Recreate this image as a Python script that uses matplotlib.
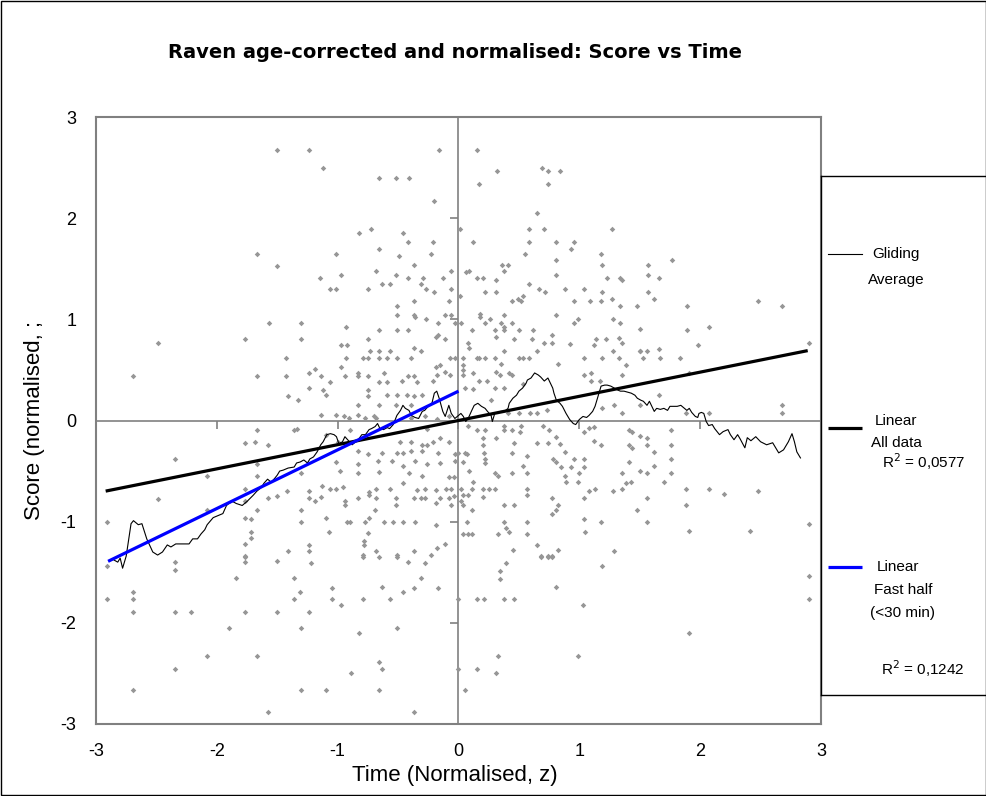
import numpy as np
import matplotlib.pyplot as plt
from matplotlib.patches import Rectangle

plt.rcParams['font.family'] = ['Liberation Sans', 'DejaVu Sans']

# ---- data (normalised time z, normalised score) ----
ticks = [-3, -2, -1, 0, 1, 2, 3]

# scatter, upper half (score > ~0.8)
pts_top = [
    (-1.50, 2.67), (-1.67, 1.65), (-1.50, 1.53), (-1.57, 0.96),
    (-1.24, 2.67), (-1.12, 2.50), (-0.66, 2.40), (-0.52, 2.40), (-0.41, 2.40), (-0.16, 2.67),
    (-0.20, 2.17), (-0.82, 1.85), (-0.72, 1.89), (-0.46, 1.85), (-0.42, 1.76), (-0.21, 1.76),
    (-0.66, 1.70), (-1.01, 1.65), (-0.49, 1.63), (-0.23, 1.65), (-0.37, 1.54), (-0.68, 1.48),
    (-0.06, 1.48), (-0.97, 1.44), (-0.52, 1.44), (-1.15, 1.41), (-0.42, 1.41), (-0.29, 1.41),
    (-0.13, 1.41), (-0.63, 1.35), (-0.57, 1.35), (-0.31, 1.35), (-1.06, 1.30), (-1.01, 1.30),
    (-0.75, 1.30), (-0.27, 1.30), (-0.06, 1.30), (-0.20, 1.27), (-0.37, 1.18), (-0.08, 1.18),
    (-0.51, 1.13), (-0.51, 1.04), (-0.37, 1.04), (-0.36, 1.02), (-0.27, 1.00), (-0.11, 1.04),
    (-0.06, 1.04), (-1.30, 0.96), (-0.93, 0.92), (-0.17, 0.96), (-0.03, 0.96), (-0.66, 0.89),
    (-0.51, 0.89), (-0.42, 0.89), (-0.17, 0.85),
    (0.15, 2.67), (0.32, 2.47), (0.17, 2.34), (0.69, 2.50), (0.74, 2.47), (0.84, 2.47),
    (0.74, 2.34), (0.65, 2.05), (0.01, 1.89), (0.58, 1.89), (0.71, 1.89), (1.27, 1.89),
    (0.12, 1.76), (0.58, 1.76), (0.81, 1.76), (0.96, 1.76), (0.93, 1.70), (0.55, 1.65),
    (1.18, 1.65), (0.81, 1.59), (0.36, 1.54), (0.41, 1.54), (1.19, 1.54), (0.38, 1.48),
    (0.06, 1.47), (0.09, 1.48), (0.81, 1.44), (0.15, 1.41), (0.20, 1.41), (0.31, 1.39),
    (1.23, 1.41), (1.34, 1.41), (1.35, 1.39), (0.58, 1.35), (0.67, 1.30), (0.72, 1.27),
    (0.88, 1.30), (1.04, 1.30), (0.01, 1.23), (0.22, 1.27), (0.31, 1.27), (1.19, 1.27),
    (0.53, 1.23), (0.49, 1.20), (0.44, 1.18), (0.52, 1.18), (0.96, 1.18), (1.09, 1.18),
    (1.18, 1.18), (1.27, 1.20), (1.34, 1.13), (1.48, 1.13), (0.81, 1.04), (0.18, 1.02),
    (0.18, 1.05), (0.38, 1.04), (0.02, 0.96), (0.22, 0.96), (0.26, 1.00), (0.35, 0.96),
    (0.38, 0.92), (0.44, 0.96), (0.96, 0.96), (0.99, 1.00), (1.28, 1.00), (1.34, 0.96),
    (0.11, 0.89), (0.30, 0.89), (0.38, 0.89), (0.50, 0.89), (0.62, 0.89), (0.77, 0.85),
    (1.50, 0.90),
    (1.77, 1.59), (1.57, 1.54), (1.57, 1.44), (1.66, 1.41), (1.57, 1.27), (1.62, 1.20),
    (1.89, 1.13), (2.48, 1.18), (2.68, 1.13), (1.89, 0.89), (2.07, 0.92),
]

# scatter, left of zero, middle band
pts_mid_left = [
    (-2.49, 0.77), (-1.77, 0.81), (-2.69, 0.44), (-1.67, 0.44), (-1.67, -0.09), (-1.77, -0.22),
    (-1.68, -0.21), (-1.58, -0.24), (-2.35, -0.38), (-1.67, -0.43), (-2.08, -0.55), (-1.67, -0.55),
    (-1.77, -0.68), (-2.49, -0.78), (-1.77, -0.80), (-1.58, -0.77), (-1.50, -0.75), (-1.67, -0.88),
    (-2.08, -0.88), (-2.91, -1.00), (-1.77, -0.96), (-1.72, -0.97), (-1.72, -1.10), (-1.72, -1.16),
    (-1.77, -1.22), (-1.77, -1.34),
    (-1.30, 0.81), (-0.75, 0.81), (-0.19, 0.83), (-0.11, 0.81), (-0.97, 0.75), (-0.92, 0.75),
    (-0.37, 0.72), (-0.73, 0.69), (-0.66, 0.69), (-0.57, 0.69), (-0.31, 0.69),
    (-1.43, 0.62), (-0.93, 0.62), (-0.79, 0.62), (-0.75, 0.62), (-0.66, 0.62), (-0.59, 0.62),
    (-0.51, 0.62), (-0.39, 0.62), (-0.07, 0.62), (-0.03, 0.62),
    (-0.97, 0.53), (-1.19, 0.51), (-0.19, 0.53), (-0.15, 0.55),
    (-1.43, 0.44), (-1.24, 0.47), (-1.14, 0.44), (-0.94, 0.44), (-0.83, 0.47), (-0.83, 0.44),
    (-0.75, 0.44), (-0.62, 0.47), (-0.42, 0.44), (-0.37, 0.44), (-0.18, 0.45), (-0.11, 0.48),
    (-0.07, 0.45),
    (-1.06, 0.38), (-0.66, 0.38), (-0.59, 0.38), (-0.47, 0.39), (-0.34, 0.38), (-0.21, 0.39),
    (-1.24, 0.32), (-1.12, 0.30), (-0.75, 0.30),
    (-1.41, 0.24), (-1.33, 0.20), (-1.10, 0.25), (-0.75, 0.24), (-0.59, 0.25), (-0.51, 0.25),
    (-0.43, 0.25), (-0.37, 0.24), (-0.30, 0.25),
    (-0.83, 0.15), (-0.66, 0.15), (-0.52, 0.15), (-0.39, 0.15),
    (-1.14, 0.05), (-1.01, 0.05), (-0.95, 0.04), (-0.91, 0.02), (-0.83, 0.05), (-0.77, 0.02),
    (-0.70, 0.04), (-0.68, 0.02), (-0.39, 0.02), (-0.28, 0.04), (-0.18, 0.01), (-0.08, 0.04),
    (-1.36, -0.09), (-1.34, -0.08), (-0.90, -0.09), (-0.26, -0.08),
    (-1.10, -0.14), (-1.00, -0.21), (-0.48, -0.21), (-0.39, -0.21), (-0.30, -0.24), (-0.26, -0.24),
    (-0.21, -0.21), (-0.15, -0.17), (-0.08, -0.21),
    (-0.83, -0.30), (-0.75, -0.33), (-0.63, -0.32), (-0.51, -0.32), (-0.46, -0.32), (-0.39, -0.30),
    (-0.30, -0.30), (-0.17, -0.32), (-0.03, -0.33), (0.00, -0.32),
    (-1.01, -0.41), (-0.83, -0.43), (-0.67, -0.40), (-0.55, -0.40), (-0.46, -0.45), (-0.36, -0.40),
    (-0.26, -0.43), (-0.15, -0.42), (-0.03, -0.40),
    (-1.30, -0.52), (-0.98, -0.50), (-0.83, -0.52), (-0.66, -0.51), (-0.41, -0.52), (-0.30, -0.55),
    (-0.08, -0.56), (-0.04, -0.56),
    (-1.42, -0.70), (-1.13, -0.65), (-1.06, -0.68), (-1.01, -0.68), (-0.96, -0.66), (-0.74, -0.71),
    (-0.68, -0.68), (-0.57, -0.68), (-0.46, -0.62), (-0.34, -0.69), (-0.28, -0.68), (-0.19, -0.69),
    (-0.10, -0.68), (-0.06, -0.68),
    (-1.24, -0.70), (-1.24, -0.77), (-1.19, -0.80), (-1.14, -0.76), (-0.83, -0.77), (-0.74, -0.74),
    (-0.68, -0.77), (-0.52, -0.77), (-0.37, -0.77), (-0.31, -0.77), (-0.28, -0.77), (-0.15, -0.77),
    (-0.08, -0.77), (-0.04, -0.75),
    (-1.30, -0.88), (-0.94, -0.80), (-0.94, -0.84), (-0.69, -0.88), (-0.52, -0.84), (-0.19, -0.82),
    (-0.06, -0.84), (-1.10, -0.96), (-0.74, -0.96),
    (-1.30, -1.00), (-0.92, -1.00), (-0.90, -1.00), (-0.77, -1.00), (-0.62, -1.00), (-0.54, -1.00),
    (-0.46, -1.00), (-0.36, -1.00), (-0.19, -1.03),
    (-1.07, -1.10), (-0.75, -1.11), (-0.78, -1.19), (-0.78, -1.23), (-0.11, -1.22),
    (-1.41, -1.29), (-1.24, -1.23), (-1.24, -1.29), (-0.79, -1.33), (-0.68, -1.29), (-0.51, -1.33),
    (-0.37, -1.29), (-0.23, -1.33), (-0.18, -1.26),
]

# scatter, right of zero, middle band
pts_mid_right = [
    (0.31, 0.83), (0.61, 0.81), (1.14, 0.81), (1.22, 0.81), (1.33, 0.82), (0.46, 0.81),
    (0.71, 0.77), (0.77, 0.77), (1.12, 0.75), (0.08, 0.77), (0.09, 0.72), (1.35, 0.77),
    (0.38, 0.69), (0.65, 0.69), (0.92, 0.76), (1.28, 0.69), (1.50, 0.69),
    (0.04, 0.62), (0.15, 0.62), (0.17, 0.62), (0.22, 0.62), (0.30, 0.62), (0.50, 0.62),
    (0.53, 0.62), (0.58, 0.62), (1.04, 0.62), (1.19, 0.62), (1.33, 0.62),
    (0.35, 0.56), (0.04, 0.55), (0.82, 0.56), (1.39, 0.55),
    (0.04, 0.50), (0.12, 0.47), (0.31, 0.48), (0.34, 0.45), (0.42, 0.47), (0.44, 0.45),
    (1.04, 0.45), (1.10, 0.47), (1.35, 0.45), (0.04, 0.45),
    (0.17, 0.39), (0.24, 0.39), (1.17, 0.39), (1.10, 0.39), (0.53, 0.36), (0.30, 0.32),
    (0.38, 0.32), (0.12, 0.31), (0.05, 0.32), (0.27, 0.20), (1.29, 0.15), (1.50, 0.15),
    (0.41, 0.07), (0.50, 0.07), (0.59, 0.07), (0.65, 0.07), (0.73, 0.10), (1.19, 0.12),
    (1.35, 0.07),
    (0.08, -0.05), (0.38, -0.05), (0.70, -0.05), (1.12, -0.06), (0.52, -0.05),
    (0.15, -0.09), (0.22, -0.09), (0.38, -0.09), (0.44, -0.09), (0.51, -0.11), (0.75, -0.09),
    (1.08, -0.07), (1.04, -0.11), (1.41, -0.09), (1.44, -0.11),
    (0.20, -0.17), (0.31, -0.17), (0.81, -0.16), (0.84, -0.23), (0.65, -0.22), (0.74, -0.22),
    (1.12, -0.20), (1.18, -0.24), (1.41, -0.24), (1.44, -0.27), (0.46, -0.22),
    (0.20, -0.24), (0.05, -0.32), (0.07, -0.33), (0.21, -0.32), (0.44, -0.32), (0.88, -0.31),
    (0.22, -0.38), (0.22, -0.42), (0.04, -0.41), (0.57, -0.35), (0.78, -0.38), (0.81, -0.41),
    (0.96, -0.38), (1.04, -0.38), (1.04, -0.46), (0.85, -0.46), (0.93, -0.46), (1.41, -0.41),
    (0.53, -0.45),
    (0.09, -0.50), (0.30, -0.52), (0.33, -0.55), (0.44, -0.52), (0.57, -0.52), (0.88, -0.55),
    (1.00, -0.52), (1.35, -0.52), (1.50, -0.50),
    (0.12, -0.61), (0.89, -0.61), (0.99, -0.61), (1.39, -0.62), (1.43, -0.61), (0.02, -0.68),
    (0.11, -0.68), (0.20, -0.68), (0.25, -0.68), (0.30, -0.68), (0.57, -0.68), (1.13, -0.68),
    (1.08, -0.70), (1.28, -0.70), (1.35, -0.68),
    (0.04, -0.74), (0.08, -0.74), (0.20, -0.76), (0.57, -0.74), (0.77, -0.77), (1.04, -0.77),
    (0.02, -0.80), (0.04, -0.84), (0.11, -0.88), (0.38, -0.84), (0.46, -0.84), (0.81, -0.88),
    (0.82, -0.84), (0.77, -0.92), (1.48, -0.88),
    (0.07, -1.00), (0.38, -1.00), (0.57, -1.00), (1.04, -0.97), (1.18, -1.00),
    (0.39, -1.06), (0.42, -1.10), (0.04, -1.12), (0.08, -1.12), (0.11, -1.12), (0.33, -1.12),
    (0.57, -1.12), (1.05, -1.10), (0.65, -1.23),
    (0.45, -1.28), (0.82, -1.28), (1.29, -1.29), (0.68, -1.34), (0.74, -1.34), (0.77, -1.34),
    (1.50, 0.69), (1.56, 0.69), (1.66, 0.71), (1.98, 0.75), (2.90, 0.77), (1.53, 0.62),
    (1.67, 0.62), (1.83, 0.62), (1.91, 0.47), (1.66, 0.25), (2.68, 0.15), (2.68, 0.07),
    (1.88, 0.07), (2.07, 0.07), (1.50, -0.15), (1.56, -0.17), (1.56, -0.24), (1.76, -0.09),
    (1.76, -0.24), (1.62, -0.31), (1.76, -0.38), (1.62, -0.45), (1.56, -0.52), (1.76, -0.52),
    (1.70, -0.61), (1.88, -0.68), (2.07, -0.68), (2.20, -0.73), (2.48, -0.70), (1.56, -0.77),
    (1.88, -0.84), (1.56, -1.00), (1.91, -1.09), (2.41, -1.09), (2.90, -1.02),
]

# scatter, lower band (score < ~-1.35)
pts_low = [
    (-2.91, -1.44), (-2.35, -1.40), (-2.35, -1.48), (-1.84, -1.56), (-1.77, -1.35), (-1.77, -1.40),
    (-1.50, -1.39), (-2.91, -1.76), (-2.69, -1.70), (-2.69, -1.76), (-2.69, -1.89), (-2.35, -1.89),
    (-2.21, -1.89), (-1.77, -1.89), (-1.50, -1.89), (-1.90, -2.05), (-2.08, -2.33), (-1.67, -2.33),
    (-2.35, -2.46), (-2.69, -2.66), (-1.58, -2.88),
    (-1.22, -1.41), (-0.79, -1.35), (-0.66, -1.35), (-0.51, -1.35), (-0.42, -1.40), (-0.28, -1.41),
    (-1.36, -1.56), (-0.31, -1.56), (-1.31, -1.70), (-1.05, -1.66), (-0.63, -1.65), (-0.37, -1.66),
    (-0.17, -1.66), (-0.46, -1.70), (-1.36, -1.76), (-1.05, -1.76), (-0.79, -1.76), (-0.57, -1.76),
    (0.00, -1.76), (-0.97, -1.82), (-1.24, -1.89), (-1.30, -2.05), (-0.51, -2.05), (-0.82, -2.10),
    (-0.66, -2.39), (-0.63, -2.46), (-0.89, -2.50), (0.00, -2.46), (-1.30, -2.66), (-1.10, -2.66),
    (-0.66, -2.66), (-0.37, -2.88),
    (0.39, -1.41), (0.34, -1.49), (0.34, -1.57), (0.68, -1.35), (0.74, -1.35), (0.77, -1.35),
    (1.19, -1.44), (0.81, -1.65), (0.15, -1.76), (0.21, -1.76), (0.38, -1.76), (0.46, -1.76),
    (1.03, -1.82), (0.33, -2.33), (0.99, -2.33), (0.15, -2.46), (0.31, -2.50), (0.05, -2.66),
    (2.90, -1.54), (2.90, -1.76), (1.91, -2.10),
]

# gliding average
glide_x = [
    -2.85, -2.82, -2.80, -2.78, -2.75, -2.71, -2.69, -2.65, -2.62, -2.58, -2.53, -2.49, -2.45,
    -2.41, -2.38, -2.34, -2.25, -2.23, -2.20, -2.16, -2.13, -2.10, -2.08, -2.03, -1.99, -1.95,
    -1.92, -1.90, -1.87, -1.84, -1.79, -1.75, -1.70, -1.67, -1.63, -1.61, -1.58, -1.55, -1.52,
    -1.50, -1.48, -1.45, -1.41, -1.36, -1.34, -1.31, -1.28, -1.25, -1.23, -1.20, -1.17, -1.14,
    -1.12, -1.09, -1.06, -1.03, -1.01, -0.99, -0.96, -0.94, -0.91, -0.88, -0.85, -0.83, -0.80,
    -0.77, -0.74, -0.72, -0.69, -0.67, -0.65, -0.62, -0.59, -0.57, -0.54, -0.51, -0.48, -0.46,
    -0.44, -0.41, -0.39, -0.36, -0.33, -0.30, -0.28, -0.25, -0.22, -0.20, -0.18, -0.16, -0.13,
    -0.11, -0.08, -0.06, -0.03, 0.00, 0.02, 0.04, 0.06, 0.08, 0.11, 0.13, 0.16, 0.19, 0.22,
    0.24, 0.27, 0.28, 0.30, 0.33, 0.35, 0.38, 0.41, 0.42, 0.45, 0.48, 0.50, 0.53, 0.56, 0.57,
    0.60, 0.63, 0.66, 0.68, 0.71, 0.74, 0.76, 0.78, 0.79, 0.81, 0.84, 0.86, 0.89, 0.92, 0.95,
    0.97, 1.00, 1.03, 1.06, 1.08, 1.11, 1.13, 1.15, 1.18, 1.21, 1.23, 1.26, 1.29, 1.32, 1.34,
    1.37, 1.40, 1.43, 1.46, 1.48, 1.51, 1.53, 1.56, 1.58, 1.60, 1.62, 1.64, 1.67, 1.70, 1.73,
    1.75, 1.78, 1.81, 1.84, 1.86, 1.89, 1.91, 1.93, 1.96, 1.98, 1.99, 2.01, 2.03, 2.05, 2.07,
    2.10, 2.12, 2.16, 2.19, 2.23, 2.25, 2.28, 2.31, 2.33, 2.37, 2.39, 2.42, 2.46, 2.50, 2.55,
    2.60, 2.65, 2.69, 2.73, 2.76, 2.78, 2.80, 2.83,
]
glide_y = [
    -1.38, -1.40, -1.36, -1.46, -1.34, -1.02, -0.99, -1.03, -1.02, -1.17, -1.30, -1.33, -1.30,
    -1.23, -1.25, -1.22, -1.22, -1.22, -1.17, -1.17, -1.12, -1.08, -1.03, -0.96, -0.94, -0.92,
    -0.84, -0.82, -0.80, -0.82, -0.84, -0.80, -0.74, -0.70, -0.66, -0.62, -0.58, -0.61, -0.57,
    -0.54, -0.50, -0.49, -0.47, -0.46, -0.42, -0.41, -0.39, -0.42, -0.38, -0.36, -0.31, -0.24,
    -0.21, -0.14, -0.13, -0.14, -0.16, -0.23, -0.21, -0.16, -0.20, -0.24, -0.21, -0.19, -0.14,
    -0.14, -0.09, -0.08, -0.06, -0.03, -0.08, -0.09, -0.07, -0.08, -0.04, 0.05, 0.10, 0.15,
    0.12, 0.10, 0.05, 0.03, 0.02, 0.09, 0.10, 0.14, 0.17, 0.27, 0.29, 0.22, 0.09,
    0.04, 0.15, 0.07, 0.02, 0.05, 0.07, 0.04, -0.01, 0.02, 0.10, 0.15, 0.17, 0.14, 0.12,
    0.09, 0.05, -0.01, 0.07, 0.08, 0.09, 0.09, 0.12, 0.17, 0.22, 0.25, 0.29, 0.32, 0.37, 0.40,
    0.42, 0.47, 0.45, 0.43, 0.39, 0.42, 0.37, 0.32, 0.27, 0.20, 0.17, 0.14, 0.07, 0.01, -0.03,
    -0.04, 0.01, 0.04, 0.03, 0.05, 0.09, 0.14, 0.22, 0.34, 0.35, 0.35, 0.34, 0.32, 0.30, 0.29,
    0.29, 0.28, 0.27, 0.25, 0.22, 0.20, 0.19, 0.15, 0.19, 0.14, 0.09, 0.12, 0.11, 0.12, 0.10,
    0.14, 0.14, 0.14, 0.15, 0.13, 0.10, 0.12, 0.08, 0.04, 0.03, 0.07, 0.08, 0.07, -0.01, -0.05,
    -0.04, -0.08, -0.14, -0.11, -0.09, -0.14, -0.19, -0.14, -0.18, -0.27, -0.17, -0.20, -0.16, -0.21, -0.24,
    -0.22, -0.32, -0.29, -0.21, -0.13, -0.21, -0.31, -0.37,
]

# linear trend lines (slope, intercept, x-range)
fit_all = (0.239, 0.0, -2.92, 2.89)      # R^2 = 0,0577
fit_fast = (0.58, 0.29, -2.90, 0.0)      # R^2 = 0,1242

# ---- layout helpers (pixels of the 987x796 picture) ----
W, H = 987, 796
fig = plt.figure(figsize=(W / 100, H / 100), dpi=100)


def fx(px):
    return px / W


def fy(py):
    return 1 - py / H


grey = '#808080'
ax = fig.add_axes([fx(96), fy(724), fx(821) - fx(96), fy(117) - fy(724)])
ax.set_xlim(-3, 3)
ax.set_ylim(-3, 3)
for s in ax.spines.values():
    s.set_color(grey)
    s.set_linewidth(1.5)
ax.set_xticks(ticks)
ax.set_yticks(ticks)
ax.set_xticklabels([str(t) for t in ticks])
ax.set_yticklabels([str(t) for t in ticks])
ax.tick_params(axis='both', length=0, labelsize=13)
ax.tick_params(axis='y', pad=14)
ax.tick_params(axis='x', pad=14)

# axes crossing at zero, with tick marks
sy = ax.secondary_yaxis(0.5)
sy.set_alignment('left')
sy.set_yticks(ticks)
sy.set_yticklabels([])
sy.tick_params(direction='out', length=6, width=1.2, color=grey)
sy.spines['left'].set_color(grey)
sy.spines['left'].set_linewidth(1.2)
sx = ax.secondary_xaxis(0.5)
sx.set_alignment('bottom')
sx.set_xticks(ticks)
sx.set_xticklabels([])
sx.tick_params(direction='out', length=6, width=1.2, color=grey)
sx.spines['bottom'].set_color(grey)
sx.spines['bottom'].set_linewidth(1.2)

pts = np.array(pts_top + pts_mid_left + pts_mid_right + pts_low)
ax.scatter(pts[:, 0], pts[:, 1], s=8, marker='D', color='#969696', linewidths=0, zorder=2)

ax.plot(glide_x, glide_y, color='black', lw=0.8, zorder=3)
for (m, b, x0, x1), col in [(fit_all, 'black'), (fit_fast, '#0000ff')]:
    xs = np.array([x0, x1])
    ax.plot(xs, m * xs + b, color=col, lw=2.3, solid_capstyle='butt', zorder=4)

# titles
fig.text(fx(455), fy(52), 'Raven age-corrected and normalised: Score vs Time',
         ha='center', va='center', fontsize=14, fontweight='bold', family='DejaVu Sans')
fig.text(fx(455), fy(775), 'Time (Normalised, z)', ha='center', va='center', fontsize=16)
fig.text(fx(35), fy(421), 'Score (normalised, ;', ha='center', va='center',
         rotation=90, fontsize=16)

# legend box
top, bot = 176, 695
lax = fig.add_axes([fx(821), fy(bot), fx(987) - fx(821), fy(top) - fy(bot)])
lax.set_xlim(821, 987)
lax.set_ylim(bot, top)
lax.set_xticks([])
lax.set_yticks([])
for s in lax.spines.values():
    s.set_color('black')
    s.set_linewidth(1.0)

lfs = 11
lax.plot([828, 862], [254, 254], color='black', lw=0.8)
lax.text(896, 254, 'Gliding', ha='center', va='center', fontsize=lfs)
lax.text(896, 280, 'Average', ha='center', va='center', fontsize=lfs)

lax.plot([828, 862], [428, 428], color='black', lw=2.3, solid_capstyle='butt')
lax.text(896, 421, 'Linear', ha='center', va='center', fontsize=lfs)
lax.text(896, 443, 'All data', ha='center', va='center', fontsize=lfs)
lax.text(924, 462, 'R$^2$ = 0,0577', ha='center', va='center', fontsize=lfs)

lax.plot([828, 862], [567, 567], color='#0000ff', lw=2.3, solid_capstyle='butt')
lax.text(898, 567, 'Linear', ha='center', va='center', fontsize=lfs)
lax.text(903, 590, 'Fast half', ha='center', va='center', fontsize=lfs)
lax.text(903, 613, '(<30 min)', ha='center', va='center', fontsize=lfs)
lax.text(923, 669, 'R$^2$ = 0,1242', ha='center', va='center', fontsize=lfs)

# outer chart border
fig.add_artist(Rectangle((0.0006, 0.0008), 0.9986, 0.9984, transform=fig.transFigure,
                         fill=False, ec='black', lw=1.0))

fig.savefig('out.png', dpi=100)
